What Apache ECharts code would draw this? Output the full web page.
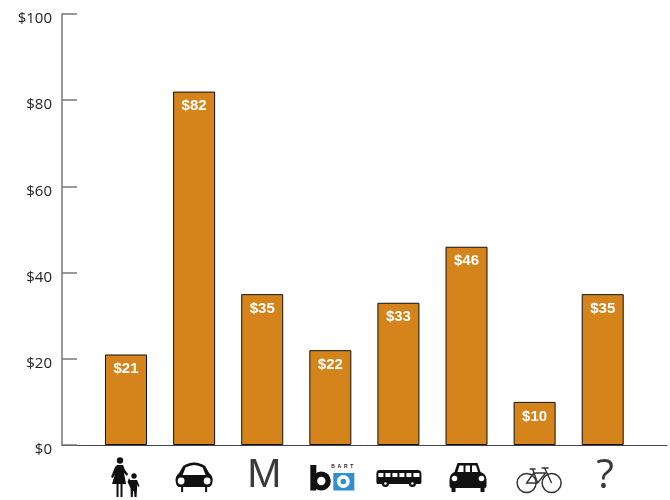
<!DOCTYPE html>
<html>
<head>
<meta charset="utf-8">
<style>html,body{margin:0;padding:0;background:#fff}#chart{width:670px;height:500px}</style>
<script src="https://cdn.jsdelivr.net/npm/echarts@6/dist/echarts.min.js"></script>
</head>
<body>
<div id="chart"></div>
<script>
// Spending per trip mode, one bar per mode, with a pictogram under each bar.
const modes = ['walk', 'car', 'muni', 'bart', 'bus', 'carpool', 'bike', 'other'];
const amounts = [21, 82, 35, 22, 33, 46, 10, 35];
const yTicks = [0, 20, 40, 60, 80, 100];

const INK = '#111';
const circle = (x, y, r) => `M${x - r} ${y}a${r} ${r} 0 1 0 ${2 * r} 0a${r} ${r} 0 1 0 ${-2 * r} 0Z`;
const fillPath = (d, fill) => ({ type: 'path', shape: { pathData: d }, style: { fill: fill || INK } });
const linePath = (d, w, color) => ({
  type: 'path', shape: { pathData: d },
  style: { fill: 'none', stroke: color || '#333', lineWidth: w }
});
const label = (text, x, y, font, fill) => ({
  type: 'text',
  style: { text, x, y, font, fill, textAlign: 'center', textVerticalAlign: 'middle' }
});

// Pictograms in local coordinates: origin at bar centre on the baseline, y pointing down.
const pictograms = {
  walk: [
    fillPath(circle(-6, 15.5, 3.2)),
    fillPath('M-9 20L-3 20L-1 25L2 29L1 31L-2 28L0 39L-14 39L-11 29L-13 33L-15 32L-11 22Z'),
    fillPath('M-9.5 39H-7.5V52H-9.5ZM-5.5 39H-3.5V52H-5.5Z'),
    fillPath(circle(8, 31, 2.7)),
    fillPath('M4 35L11 35L13.5 41L12 42L11 39L11 44L10.5 52L8.5 52L8 46L7 46L6.8 52L4.8 52L4.5 43L1.5 37L3 33Z')
  ],
  car: [
    fillPath('M-15 28L-11 21Q-6 17.5 0 17.5Q6 17.5 11 21L15 28Q19 31 18.5 36Q18 42 14 42L-14 42Q-18 42 -18.5 36Q-19 31 -15 28Z'),
    fillPath('M-11.5 30L-8.5 22.5Q-4 20 0 20Q4 20 8.5 22.5L11.5 30Z', '#fff'),
    fillPath(circle(-13, 36, 3.4), '#fff'),
    fillPath(circle(13, 36, 3.4), '#fff'),
    fillPath('M-13 42H-11V47H-13ZM11 42H13V47H11Z')
  ],
  muni: [label('M', 2, 31, '41px "Liberation Sans"', '#3a3a3a')],
  bart: [
    fillPath('M-20 20H-14V45.5H-20Z'),
    fillPath(circle(-9, 36, 9.5)),
    fillPath(circle(-9, 36, 4.2), '#fff'),
    fillPath('M3 28H24V45.5H3Z', '#2f8fd0'),
    fillPath(circle(13, 36.5, 6.5), '#fff'),
    fillPath(circle(13, 36.5, 2.8), '#2f8fd0'),
    label('B  A  R  T', 12, 21.5, 'bold 5px "Liberation Sans"', '#222')
  ],
  bus: [
    fillPath('M-19 25H19Q23 25 23 29V38Q23 39 21 39H-21Q-22 39 -22 37V29Q-22 25 -19 25Z'),
    fillPath('M-20 28H-15V32H-20ZM-13 28H-8V32H-13ZM-6 28H-1V32H-6ZM1 28H6V32H1ZM8 28H13V32H8ZM15 28H21V32H15Z', '#fff'),
    fillPath(circle(-13, 38.5, 3.6)),
    fillPath(circle(14, 38.5, 3.6)),
    fillPath(circle(-13, 38.5, 1.3), '#fff'),
    fillPath(circle(14, 38.5, 1.3), '#fff')
  ],
  carpool: [
    fillPath('M-9 18H11L14 27Q20 29 20 35V41Q20 43 18 43H-15Q-17 43 -17 41V35Q-17 29 -12 27Z'),
    fillPath('M-7 20.5H-3V27H-9ZM-1 20.5H3.5V27H-1ZM5.5 20.5H9.5L11.5 27H5.5Z', '#fff'),
    fillPath(circle(-12, 33.5, 2.8), '#fff'),
    fillPath(circle(15, 33.5, 2.8), '#fff'),
    fillPath('M-15 43H-11V47H-15ZM14 43H18V47H14Z')
  ],
  bike: [
    linePath(circle(-8, 38, 9.5), 1.5),
    linePath(circle(17, 38, 9.5), 1.5),
    linePath('M-8 38L-1 28L11 28L3 38ZM-8 38H3M-2 24L3 38M-5 24H1M10 23L17 38M7 23H14', 1.4)
  ],
  other: [label('?', 2.5, 31, '41px "Open Sans"', '#3a3a3a')]
};

const chart = echarts.init(document.getElementById('chart'), null, { renderer: 'canvas' });
chart.setOption({
  animation: false,
  backgroundColor: '#fff',
  grid: { left: 62, right: 3, top: 14, bottom: 55 },
  xAxis: {
    type: 'value', min: -0.94, max: 7.944,
    splitLine: { show: false }, axisTick: { show: false }, axisLabel: { show: false },
    axisLine: { show: true, lineStyle: { color: '#444', width: 1 } }
  },
  yAxis: {
    type: 'value', min: yTicks[0], max: yTicks[yTicks.length - 1], interval: yTicks[1] - yTicks[0],
    splitLine: { show: false },
    axisLine: { show: true, onZero: false, lineStyle: { color: '#777', width: 1.5 } },
    axisTick: { show: true, inside: true, length: 15, lineStyle: { color: '#777', width: 1.5 } },
    axisLabel: {
      formatter: '${value}', color: '#222', fontFamily: 'Open Sans', fontSize: 15,
      margin: 10, verticalAlign: 'top', lineHeight: 10
    }
  },
  series: [
    {
      type: 'bar',
      barWidth: 42,
      data: amounts.map((v, i) => [i, v]),
      itemStyle: { color: '#d5831b', borderColor: '#111', borderWidth: 1 },
      label: {
        show: true, position: 'insideTop', distance: 7,
        formatter: p => '$' + p.value[1],
        color: '#fff', fontFamily: 'Liberation Sans', fontWeight: 'bold', fontSize: 15
      }
    },
    {
      type: 'custom',
      silent: true,
      clip: false,
      data: modes.map((m, i) => [i]),
      encode: { x: 0 },
      renderItem(params, api) {
        const i = api.value(0);
        const p = api.coord([i, 0]);
        return { type: 'group', x: p[0], y: p[1], children: pictograms[modes[i]] };
      }
    }
  ]
});
</script>
</body>
</html>
